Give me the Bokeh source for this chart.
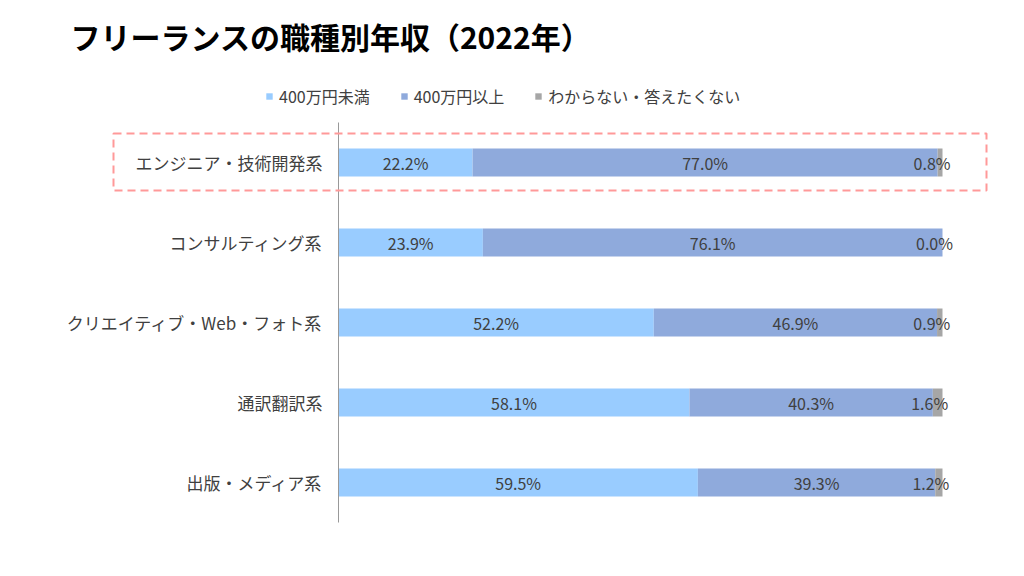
from bokeh.plotting import figure
from bokeh.models import (ColumnDataSource, Range1d, Legend, LegendItem, Label, BoxAnnotation)
from bokeh.core.properties import value
from bokeh.embed import file_html
from bokeh.resources import INLINE
import numpy as np

categories = ["エンジニア・技術開発系", "コンサルティング系", "クリエイティブ・Web・フォト系",
              "通訳翻訳系", "出版・メディア系"]
under_400 = [22.2, 23.9, 52.2, 58.1, 59.5]
over_400 = [77.0, 76.1, 46.9, 40.3, 39.3]
unknown = [0.8, 0.0, 0.9, 1.6, 1.2]
series_names = ["400万円未満", "400万円以上", "わからない・答えたくない"]
colors = ["#99CCFF", "#8FAADC", "#A6A6A6"]
title_text = "フリーランスの職種別年収（2022年）"

FONT = "Noto Sans CJK JP"
TXT = "#404040"

n = len(categories)
ypos = [n - 1 - i for i in range(n)]  # first category on top

source = ColumnDataSource(dict(cat=categories, y=ypos, s0=under_400, s1=over_400, s2=unknown))

W, H = 1008, 560
# plot region: x=0 at 338px, x=100 at 942px; category rows 80px tall, top row centred at 162px
px_per_x = (942 - 338) / 100.0
px_per_y = 80.0
x_range = Range1d(-338 / px_per_x, (W - 338) / px_per_x)
y_top = (n - 1) + 162 / px_per_y
y_range = Range1d(y_top - H / px_per_y, y_top)

p = figure(width=W, height=H, output_backend="svg", toolbar_location=None,
           x_range=x_range, y_range=y_range,
           min_border_left=0, min_border_right=0, min_border_top=0, min_border_bottom=0)
p.axis.visible = False
p.grid.visible = False
p.outline_line_color = None

renderers = p.hbar_stack(["s0", "s1", "s2"], y="y", height=0.35, source=source,
                         fill_color=colors, line_color=None)

# vertical category axis line
p.segment(x0=[0], y0=[-0.5], x1=[0], y1=[n - 0.5], line_color="#999999", line_width=1)

# category labels
p.text(x=[0] * n, y=ypos, text=categories, x_offset=-16, text_align="right",
       text_baseline="middle", text_font=value(FONT), text_font_size="17px", text_color=TXT)

# value labels
vals = [np.array(under_400), np.array(over_400), np.array(unknown)]
left = np.zeros(n)
for i, v in enumerate(vals):
    centers = left + v / 2
    left = left + v
    lab = [f"{x:.1f}%" for x in v]
    p.text(x=list(centers), y=ypos, text=lab, text_align="center", text_baseline="middle",
           text_font=value(FONT), text_font_size="16px", text_color=TXT,
           x_offset=-8 if i == 2 else 0)

legend = Legend(items=[LegendItem(label=nm, renderers=[r]) for nm, r in zip(series_names, renderers)],
                orientation="horizontal", location=(265, H - 108),
                glyph_width=8, glyph_height=8, label_standoff=6, spacing=30, padding=0, margin=0,
                border_line_color=None, background_fill_alpha=0,
                label_text_font=FONT, label_text_font_size="16px", label_text_color=TXT)
p.add_layout(legend)

p.add_layout(Label(x=70, y=H - 35, x_units="screen", y_units="screen", text=title_text,
                   text_font=FONT, text_font_size="30px", text_font_style="bold",
                   text_baseline="middle", text_color="#000000"))

p.add_layout(BoxAnnotation(left=113, right=986, top=H - 133, bottom=H - 190,
                           left_units="screen", right_units="screen",
                           top_units="screen", bottom_units="screen",
                           fill_alpha=0, line_color="#FF9999", line_alpha=1.0,
                           line_width=2, line_dash="8 5"))

open("out.html", "w").write(file_html(p, INLINE))
